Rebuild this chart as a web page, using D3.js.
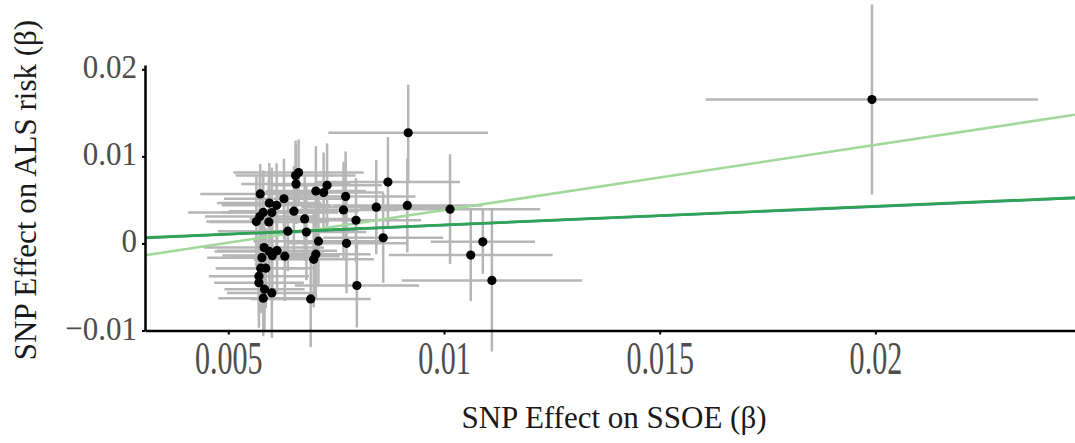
<!DOCTYPE html>
<html>
<head>
<meta charset="utf-8">
<script src="https://cdn.jsdelivr.net/npm/d3@7"></script>
<style>
  html, body { margin: 0; padding: 0; background: #fff; }
  svg { display: block; }
  text { font-family: "Liberation Serif", "Times New Roman", "DejaVu Serif", serif; }
</style>
</head>
<body>
<svg id="chart" width="1075" height="443"></svg>
<script>
// ---- Data ----
// SNP effect on SSOE (beta), x
const snpX = [0.01992, 0.00917, 0.00870, 0.00915, 0.01014, 0.00843, 0.00859, 0.01090, 0.01062, 0.01111,
              0.00798, 0.00691, 0.00774, 0.00796, 0.00772, 0.00767, 0.00729, 0.00721, 0.00703, 0.00663,
              0.00656, 0.00657, 0.00629, 0.00652, 0.00677, 0.00681, 0.00638, 0.00709, 0.00703, 0.00698,
              0.00631, 0.00613, 0.00602, 0.00595, 0.00583, 0.00578, 0.00587, 0.00575, 0.00571, 0.00571,
              0.00584, 0.00601, 0.00581, 0.00574, 0.00595, 0.00612, 0.00601, 0.00581, 0.00573, 0.00565,
              0.00594];
// SNP effect on ALS risk (beta), y
const snpY = [0.01653, 0.01271, 0.00705, 0.00437, 0.00394, 0.00417, 0.00064, 0.00018, -0.00134, -0.00425,
              -0.00483, -0.00637, 0.00001, 0.00266, 0.00540, 0.00385, 0.00667, 0.00584, 0.00601, 0.00814,
              0.00779, 0.00682, 0.00513, 0.00371, 0.00282, 0.00130, 0.00141, 0.00026, -0.00123, -0.00183,
              -0.00146, -0.00083, -0.00140, -0.00092, -0.00048, -0.00163, -0.00284, -0.00284, -0.00376, -0.00451,
              -0.00525, -0.00568, -0.00629, 0.00569, 0.00463, 0.00438, 0.00354, 0.00356, 0.00308, 0.00251,
              0.00247];
// half-width of the 95% interval on x
const xErr = [0.00385, 0.00185, 0.00167, 0.00174, 0.00209, 0.00174, 0.00139, 0.00121, 0.00190, 0.00209,
              0.00144, 0.00139, 0.00139, 0.00151, 0.00162, 0.00127, 0.00127, 0.00139, 0.00116, 0.00151,
              0.00139, 0.00127, 0.00139, 0.00151, 0.00127, 0.00139, 0.00162, 0.00151, 0.00127, 0.00139,
              0.00127, 0.00139, 0.00116, 0.00127, 0.00139, 0.00127, 0.00116, 0.00104, 0.00116, 0.00104,
              0.00093, 0.00104, 0.00104, 0.00139, 0.00121, 0.00127, 0.00116, 0.00174, 0.00127, 0.00116,
              0.00139];
// half-width of the 95% interval on y
const yErr = [0.01092, 0.00552, 0.00517, 0.00540, 0.00632, 0.00540, 0.00517, 0.00368, 0.00529, 0.00816,
              0.00483, 0.00552, 0.00575, 0.00483, 0.00517, 0.00552, 0.00483, 0.00460, 0.00517, 0.00380,
              0.00402, 0.00460, 0.00460, 0.00517, 0.00483, 0.00552, 0.00460, 0.00517, 0.00517, 0.00552,
              0.00517, 0.00483, 0.00517, 0.00460, 0.00517, 0.00483, 0.00460, 0.00517, 0.00460, 0.00517,
              0.00483, 0.00517, 0.00437, 0.00345, 0.00460, 0.00483, 0.00517, 0.00483, 0.00460, 0.00517,
              0.00483];

// MR regression lines
const methods    = ["Inverse variance weighted", "Weighted median", "MR Egger"];
const slopes     = [0.2120, 0.2130, 0.7490];
const intercepts = [-0.00001, 0.00000, -0.00366];
const lineColors = ["#3182bd", "#31a354", "#a1d99b"];
const lineWidths = [2.4, 2.8, 2.6];

const xTicks = [0.005, 0.01, 0.015, 0.02];
const xTickLabels = ["0.005", "0.01", "0.015", "0.02"];
const yTicks = [-0.01, 0, 0.01, 0.02];
const yTickLabels = ["\u22120.01", "0", "0.01", "0.02"];

const xTitle = "SNP Effect on SSOE (\u03B2)";
const yTitle = "SNP Effect on ALS risk (\u03B2)";

// ---- Layout ----
const svg = d3.select("#chart");
const plotLeft = 145, plotRight = 1075, plotBottom = 330.5, plotTop = 65;

const x = d3.scaleLinear().domain([0.005, 0.02]).range([228.3, 875.4]);
x.domain([x.invert(plotLeft), x.invert(plotRight)]).range([plotLeft, plotRight]);
const y = d3.scaleLinear().domain([-0.01, 0.02]).range([plotBottom, 69.3]);
y.domain([-0.01, y.invert(plotTop)]).range([plotBottom, plotTop]);

const pts = snpX.map((v, i) => ({x: v, y: snpY[i], ex: xErr[i], ey: yErr[i]}));

// error bars
const bars = svg.append("g").attr("stroke", "#b6b6b6").attr("stroke-width", 2.5);
bars.selectAll("line.h").data(pts).join("line").attr("class", "h")
  .attr("x1", d => x(d.x - d.ex)).attr("x2", d => x(d.x + d.ex))
  .attr("y1", d => y(d.y)).attr("y2", d => y(d.y));
bars.selectAll("line.v").data(pts).join("line").attr("class", "v")
  .attr("x1", d => x(d.x)).attr("x2", d => x(d.x))
  .attr("y1", d => y(d.y - d.ey)).attr("y2", d => y(d.y + d.ey));

// regression lines
const xd = x.domain();
const lines = methods.map((m, i) => ({m, s: slopes[i], b: intercepts[i], c: lineColors[i], w: lineWidths[i]}));
const order = [2, 0, 1];
svg.append("g").selectAll("line").data(order.map(i => lines[i])).join("line")
  .attr("x1", x(xd[0])).attr("x2", x(xd[1]))
  .attr("y1", d => y(d.b + d.s * xd[0])).attr("y2", d => y(d.b + d.s * xd[1]))
  .attr("stroke", d => d.c).attr("stroke-width", d => d.w).attr("fill", "none");

// points
svg.append("g").selectAll("circle").data(pts).join("circle")
  .attr("cx", d => x(d.x)).attr("cy", d => y(d.y)).attr("r", 4.6).attr("fill", "#000");

// axes
const xAxis = svg.append("g").attr("transform", `translate(0,${plotBottom})`)
  .call(d3.axisBottom(x).tickValues(xTicks).tickFormat((d, i) => xTickLabels[i])
    .tickSizeOuter(0).tickSizeInner(4).tickPadding(5));
const yAxis = svg.append("g").attr("transform", `translate(${plotLeft},0)`)
  .call(d3.axisLeft(y).tickValues(yTicks).tickFormat((d, i) => yTickLabels[i])
    .tickSizeOuter(0).tickSizeInner(3).tickPadding(5));

[xAxis, yAxis].forEach(g => {
  g.select(".domain").attr("stroke", "#000").attr("stroke-width", 2.5);
  g.selectAll(".tick line").attr("stroke", "#000").attr("stroke-width", 2);
  g.selectAll(".tick text").attr("font-size", 31).attr("fill", "#4d4d4d")
    .attr("font-family", "'Liberation Serif', 'Times New Roman', serif");
});
// tall, narrow tick glyphs as in the reference
xAxis.selectAll(".tick text").attr("y", null).attr("dy", null)
  .attr("transform", "translate(0,43) scale(0.97,1.5)");
yAxis.selectAll(".tick text").attr("dy", null).attr("x", null)
  .attr("transform", "translate(-8,8.5) scale(1,1.12)");

// titles
svg.append("text").attr("x", 614).attr("y", 428).attr("text-anchor", "middle")
  .attr("font-size", 31).attr("fill", "#1a1a1a").text(xTitle);
svg.append("text").attr("transform", "translate(36,190) rotate(-90)").attr("text-anchor", "middle")
  .attr("font-size", 31).attr("fill", "#1a1a1a").text(yTitle);
</script>
</body>
</html>
